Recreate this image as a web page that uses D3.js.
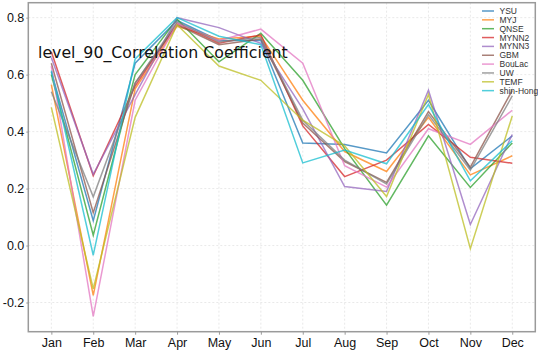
<!DOCTYPE html>
<html>
<head>
<meta charset="utf-8">
<script src="https://cdn.jsdelivr.net/npm/d3@7"></script>
<style>
  body { margin: 0; background: #fff; }
  svg { display: block; }
</style>
</head>
<body>
<svg width="538" height="353"></svg>
<script>
const months = ['Jan','Feb','Mar','Apr','May','Jun','Jul','Aug','Sep','Oct','Nov','Dec'];
const schemes = ['YSU','MYJ','QNSE','MYNN2','MYNN3','GBM','BouLac','UW','TEMF','shin-Hong'];
const yTicks = [-0.2, 0.0, 0.2, 0.4, 0.6, 0.8];

const ysu      = [0.61, 0.087, 0.64, 0.79, 0.72, 0.72, 0.36, 0.355, 0.325, 0.51, 0.27, 0.385];
const myj      = [0.565, -0.175, 0.55, 0.77, 0.725, 0.735, 0.51, 0.33, 0.26, 0.45, 0.248, 0.315];
const qnse     = [0.60, 0.036, 0.60, 0.795, 0.645, 0.745, 0.58, 0.34, 0.142, 0.385, 0.204, 0.36];
const mynn2    = [0.68, 0.245, 0.56, 0.78, 0.71, 0.74, 0.42, 0.242, 0.30, 0.425, 0.31, 0.289];
const mynn3    = [0.66, 0.25, 0.53, 0.80, 0.765, 0.71, 0.48, 0.207, 0.19, 0.545, 0.074, 0.39];
const gbm      = [0.64, 0.115, 0.57, 0.775, 0.705, 0.725, 0.43, 0.295, 0.222, 0.47, 0.275, 0.545];
const boulac   = [0.63, -0.249, 0.51, 0.78, 0.72, 0.76, 0.64, 0.28, 0.205, 0.41, 0.355, 0.475];
const uw       = [0.54, 0.171, 0.57, 0.785, 0.715, 0.73, 0.44, 0.30, 0.216, 0.46, 0.265, 0.525];
const temf     = [0.485, -0.152, 0.45, 0.775, 0.63, 0.58, 0.44, 0.35, 0.172, 0.53, -0.011, 0.455];
const shinHong = [0.614, -0.034, 0.655, 0.80, 0.735, 0.705, 0.29, 0.335, 0.287, 0.495, 0.227, 0.368];

const seriesValues = [ysu, myj, qnse, mynn2, mynn3, gbm, boulac, uw, temf, shinHong];
const colors = ['#1f77b4','#ff7f0e','#2ca02c','#d62728','#9467bd','#8c564b','#e377c2','#7f7f7f','#bcbd22','#17becf'];

const svg = d3.select('svg');
const plotLeft = 28.3, plotRight = 535.3, plotTop = 2.7, plotBottom = 331.7;

const x = d3.scaleLinear().domain([-0.55, 11.55]).range([plotLeft, plotRight]);
const y = d3.scaleLinear().domain([-0.3025, 0.8525]).range([plotBottom, plotTop]);

// grid
const grid = svg.append('g');
grid.selectAll('.gx').data(months).enter().append('line')
    .attr('x1', (d, i) => x(i)).attr('x2', (d, i) => x(i))
    .attr('y1', plotTop).attr('y2', plotBottom)
    .attr('stroke', '#e3e3e3').attr('stroke-width', 0.8)
    .attr('stroke-dasharray', '2,2');
grid.selectAll('.gy').data(yTicks).enter().append('line')
    .attr('x1', plotLeft).attr('x2', plotRight)
    .attr('y1', d => y(d)).attr('y2', d => y(d))
    .attr('stroke', '#e3e3e3').attr('stroke-width', 0.8)
    .attr('stroke-dasharray', '2,2');

// lines
const line = d3.line()
    .x((d, i) => x(i))
    .y(d => y(d));

svg.append('g').selectAll('path')
    .data(seriesValues).enter().append('path')
    .attr('d', line)
    .attr('fill', 'none')
    .attr('stroke', (d, i) => colors[i])
    .attr('stroke-opacity', 0.75)
    .attr('stroke-width', 1.5);

// frame
svg.append('rect')
    .attr('x', plotLeft).attr('y', plotTop)
    .attr('width', plotRight - plotLeft).attr('height', plotBottom - plotTop)
    .attr('fill', 'none')
    .attr('stroke', '#9a9a9a')
    .attr('stroke-width', 1.5);

// axes
const xAxis = svg.append('g')
    .attr('transform', `translate(0,${plotBottom})`)
    .call(d3.axisBottom(x).tickValues(d3.range(12)).tickFormat(i => months[i]).tickSize(3).tickPadding(3));
const yAxis = svg.append('g')
    .attr('transform', `translate(${plotLeft},0)`)
    .call(d3.axisLeft(y).tickValues(yTicks).tickFormat(d => d3.format('.1f')(d).replace('−', '-')).tickSize(2).tickPadding(2));

[xAxis, yAxis].forEach(a => {
    a.select('.domain').remove();
    a.selectAll('line').attr('stroke', '#9a9a9a');
    a.selectAll('text')
        .attr('fill', '#111')
        .style('font-family', '"Liberation Sans", Arial, sans-serif')
        .style('font-size', '12.5px');
});

// title inside plot
const title = svg.append('text')
    .attr('x', 38)
    .attr('y', 58)
    .style('font-family', '"DejaVu Sans", sans-serif')
    .style('font-size', '16px')
    .attr('fill', '#111')
    .text('level_90_Correlation Coefficient');
const tw = title.node().getComputedTextLength();
title.style('font-size', (16 * 250 / tw) + 'px');

// legend
const legend = svg.append('g').attr('transform', 'translate(482,11)');
const items = legend.selectAll('g').data(schemes).enter().append('g')
    .attr('transform', (d, i) => `translate(0,${i * 8.85})`);
items.append('line')
    .attr('x1', 0).attr('x2', 12)
    .attr('stroke', (d, i) => colors[i])
    .attr('stroke-opacity', 0.75)
    .attr('stroke-width', 1.5);
items.append('text')
    .attr('x', 17.5).attr('y', 3)
    .style('font-family', '"Liberation Sans", Arial, sans-serif')
    .style('font-size', '8.5px')
    .attr('fill', '#333')
    .text(d => d);
</script>
</body>
</html>
